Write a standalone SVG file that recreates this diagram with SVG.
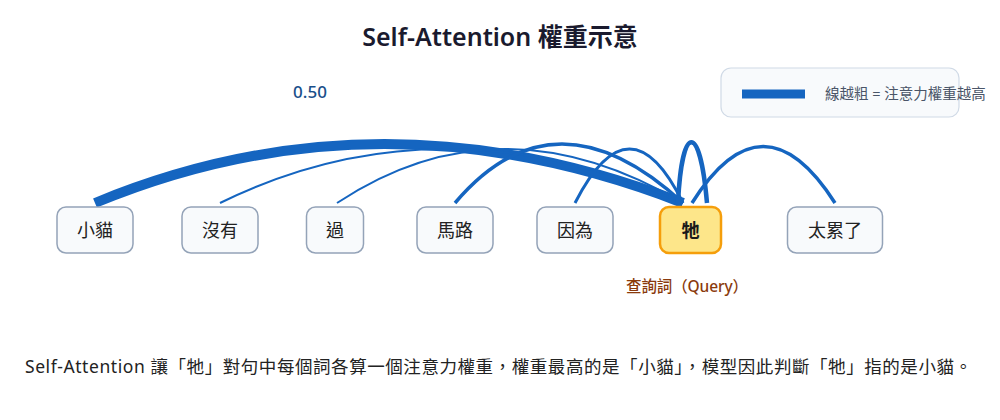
<svg xmlns="http://www.w3.org/2000/svg" width="1000" height="420" viewBox="0 0 1000 420">
  <style>
    .f { font-family: "Noto Sans", "Noto Sans CJK TC", sans-serif; }
    .title { font-size: 25px; font-weight: 600; fill: #1a1a2e; }
    .box { fill: #f8fafc; stroke: #94a3b8; stroke-width: 1.5; }
    .qbox { fill: #fde68a; stroke: #f59e0b; stroke-width: 2.5; }
    .lbl { font-size: 18px; fill: #222; }
    .qlbl { font-size: 18px; font-weight: 700; fill: #1a1a1a; }
    .arc { fill: none; stroke: #1565c0; stroke-linecap: butt; }
    .legend { fill: #f8fafc; stroke: #d0dae6; stroke-width: 1.2; }
    .ltxt { font-size: 14.5px; fill: #4a5568; }
    .val { font-size: 17px; font-weight: 500; fill: #1a4f8a; }
    .query { font-size: 15.5px; font-weight: 500; fill: #8a3a0c; }
    .cap { font-size: 17.5px; fill: #222; }
  </style>

  <text class="f title" x="500" y="46" text-anchor="middle">Self-Attention 權重示意</text>

  <g id="legend">
    <rect class="legend" x="721" y="68" width="238" height="49" rx="10"/>
    <line x1="742" y1="94" x2="805" y2="94" stroke="#1565c0" stroke-width="9"/>
    <text class="f ltxt" x="825" y="99">線越粗 = 注意力權重越高</text>
  </g>

  <text class="f val" x="310" y="98" text-anchor="middle">0.50</text>

  <g id="connectors">
    <path class="arc" stroke-width="10" d="M 95 203 Q 380 85 683 203"/>
    <path class="arc" stroke-width="2" d="M 220 203 Q 440 95 683 203"/>
    <path class="arc" stroke-width="2" d="M 337 203 Q 500 95 683 203"/>
    <path class="arc" stroke-width="3.5" d="M 455 203 Q 555 85 683 203"/>
    <path class="arc" stroke-width="3" d="M 575 203 Q 630 95 683 203"/>
    <path class="arc" stroke-width="4.5" d="M 678 203 C 682 122 700 122 707 203"/>
    <path class="arc" stroke-width="3.5" d="M 692 203 Q 763 90 835 203"/>
  </g>

  <g id="node-xiaomao">
    <rect class="box" x="57" y="207" width="76" height="46" rx="9"/>
    <text class="f lbl" x="95" y="237" text-anchor="middle">小貓</text>
  </g>
  <g id="node-meiyou">
    <rect class="box" x="182" y="207" width="76" height="46" rx="9"/>
    <text class="f lbl" x="220" y="237" text-anchor="middle">沒有</text>
  </g>
  <g id="node-guo">
    <rect class="box" x="306.5" y="207" width="57" height="46" rx="9"/>
    <text class="f lbl" x="335" y="237" text-anchor="middle">過</text>
  </g>
  <g id="node-malu">
    <rect class="box" x="417" y="207" width="76" height="46" rx="9"/>
    <text class="f lbl" x="455" y="237" text-anchor="middle">馬路</text>
  </g>
  <g id="node-yinwei">
    <rect class="box" x="537" y="207" width="76" height="46" rx="9"/>
    <text class="f lbl" x="575" y="237" text-anchor="middle">因為</text>
  </g>
  <g id="node-ta">
    <rect class="qbox" x="660" y="207" width="61" height="46" rx="9"/>
    <text class="f qlbl" x="690.5" y="237" text-anchor="middle">牠</text>
  </g>
  <g id="node-tailei">
    <rect class="box" x="787.5" y="207" width="95" height="46" rx="9"/>
    <text class="f lbl" x="835" y="237" text-anchor="middle">太累了</text>
  </g>

  <text class="f query" x="626" y="292" textLength="122" lengthAdjust="spacing">查詢詞（Query）</text>

  <text class="f cap" x="25" y="373" textLength="947" lengthAdjust="spacing">Self-Attention 讓「牠」對句中每個詞各算一個注意力權重，權重最高的是「小貓」，模型因此判斷「牠」指的是小貓。</text>
</svg>
